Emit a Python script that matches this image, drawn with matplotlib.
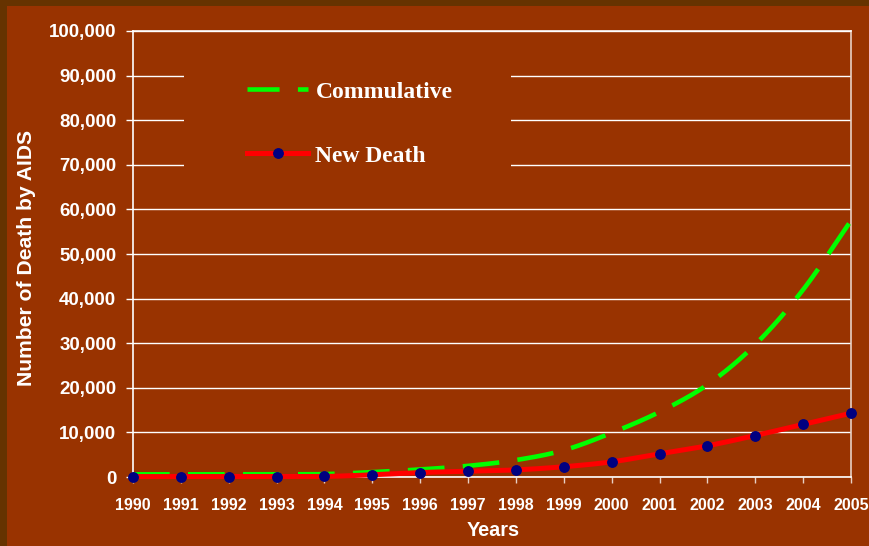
import numpy as np
import matplotlib
matplotlib.use("Agg")
import matplotlib.pyplot as plt
from matplotlib.lines import Line2D
from matplotlib.patches import Rectangle

# Data
years = [1990, 1991, 1992, 1993, 1994, 1995, 1996, 1997,
         1998, 1999, 2000, 2001, 2002, 2003, 2004, 2005]
new_death = [100, 100, 100, 100, 120, 500, 1000, 1300,
             1600, 2300, 3400, 5200, 7000, 9300, 11800, 14300]
cumulative = [600, 600, 600, 600, 650, 1100, 1700, 2500,
              3800, 6000, 9900, 14600, 20700, 29700, 42000, 57500]
y_ticks = list(range(0, 100001, 10000))
series_names = ["Commulative", "New Death"]

BG = "#993300"
BORDER = "#663300"


def smooth(x, y, n=24):
    """Catmull-Rom curve through the given points (for a smoothed line)."""
    x = np.asarray(x, float)
    y = np.asarray(y, float)
    px = np.concatenate([[2 * x[0] - x[1]], x, [2 * x[-1] - x[-2]]])
    py = np.concatenate([[2 * y[0] - y[1]], y, [2 * y[-1] - y[-2]]])
    xs, ys = [], []
    t = np.linspace(0, 1, n, endpoint=False)
    for i in range(1, len(px) - 2):
        p0, p1, p2, p3 = px[i - 1:i + 3]
        q0, q1, q2, q3 = py[i - 1:i + 3]
        def cr(a0, a1, a2, a3):
            return 0.5 * ((2 * a1) + (-a0 + a2) * t +
                          (2 * a0 - 5 * a1 + 4 * a2 - a3) * t ** 2 +
                          (-a0 + 3 * a1 - 3 * a2 + a3) * t ** 3)
        xs.append(cr(p0, p1, p2, p3))
        ys.append(cr(q0, q1, q2, q3))
    xs.append([x[-1]])
    ys.append([y[-1]])
    return np.concatenate(xs), np.concatenate(ys)


W, H = 869, 546
fig = plt.figure(figsize=(W / 100, H / 100), dpi=100)
fig.patch.set_facecolor(BG)

# dark frame on the left and top edges
fig.add_artist(Rectangle((0, 0), 7 / W, 1, transform=fig.transFigure,
                         facecolor=BORDER, edgecolor="none", zorder=0))
fig.add_artist(Rectangle((0, 1 - 6 / H), 1, 6 / H, transform=fig.transFigure,
                         facecolor=BORDER, edgecolor="none", zorder=0))

left, right, bottom, top = 133, 851, 477, 31
ax = fig.add_axes([left / W, 1 - bottom / H, (right - left) / W, (bottom - top) / H])
ax.set_facecolor(BG)

ax.set_xlim(1990, 2005)
ax.set_ylim(0, 100000)
ax.set_yticks(y_ticks)
ax.set_yticklabels([f"{v:,}" for v in y_ticks])
ax.set_xticks(years)
ax.set_xticklabels([str(y) for y in years])

ax.yaxis.grid(True, color="white", linewidth=1.0, zorder=1)
ax.set_axisbelow(True)

for side in ["top", "bottom", "left"]:
    ax.spines[side].set_color("white")
    ax.spines[side].set_linewidth(1.2)
ax.spines["right"].set_color("#E8D0C4")
ax.spines["right"].set_linewidth(1.2)

ax.tick_params(axis="y", colors="white", length=5, width=1, pad=7, labelsize=13.5)
ax.tick_params(axis="x", colors="#E8D0C4", length=4, width=1, pad=11, labelsize=11.5,
               labelcolor="white")
for lab in ax.get_xticklabels() + ax.get_yticklabels():
    lab.set_fontfamily("Liberation Sans")
    lab.set_fontweight("bold")


def ax_frac(px_x, px_y):
    """Axes fraction from a top-left based pixel position on the figure."""
    return (px_x - left) / (right - left), (bottom - px_y) / (bottom - top)


# background block behind the legend, hiding the gridlines there
bx, by = ax_frac(184, 192)
ax.add_patch(Rectangle((bx, by), 327 / (right - left), 126 / (bottom - top),
                       transform=ax.transAxes, facecolor=BG, edgecolor="none", zorder=1.5))

# cumulative deaths: smoothed dashed green
cx, cy = smooth(years, cumulative)
ax.plot(cx, cy, color="#00FF00", linewidth=3.3, dashes=(8, 4), zorder=3,
        solid_capstyle="butt", dash_capstyle="butt")

# new deaths: smoothed red line with navy markers
nx, ny = smooth(years, new_death)
ax.plot(nx, ny, color="#FF0000", linewidth=3.6, zorder=4, clip_on=False)
ax.plot(years, new_death, linestyle="none", marker="o", markersize=6.8,
        markerfacecolor="#000080", markeredgecolor="#000080", zorder=5, clip_on=False)

# legend
handles = [
    Line2D([], [], color="#00FF00", linewidth=3.3, dashes=(7, 4)),
    Line2D([], [], color="#FF0000", linewidth=3.6, marker="o", markersize=6.8,
           markerfacecolor="#000080", markeredgecolor="#000080"),
]
leg = ax.legend(handles, series_names, loc="upper left",
                bbox_to_anchor=ax_frac(247, 81),
                frameon=False, handlelength=2.6, handletextpad=0.3,
                labelspacing=1.8, borderpad=0.0, borderaxespad=0.0,
                prop=dict(family="Liberation Serif", weight="bold", size=17))
for t in leg.get_texts():
    t.set_color("white")
leg.set_zorder(6)

fig.text(493 / W, 1 - 531 / H, "Years", ha="center", va="center", color="white",
         fontsize=14.3, fontfamily="Liberation Sans", fontweight="bold")
fig.text(27 / W, 1 - 258 / H, "Number of Death by AIDS", ha="center", va="center",
         rotation=90, color="white", fontsize=15.2, fontfamily="Liberation Sans",
         fontweight="bold")

fig.savefig("out.png", dpi=100, facecolor=BG)
